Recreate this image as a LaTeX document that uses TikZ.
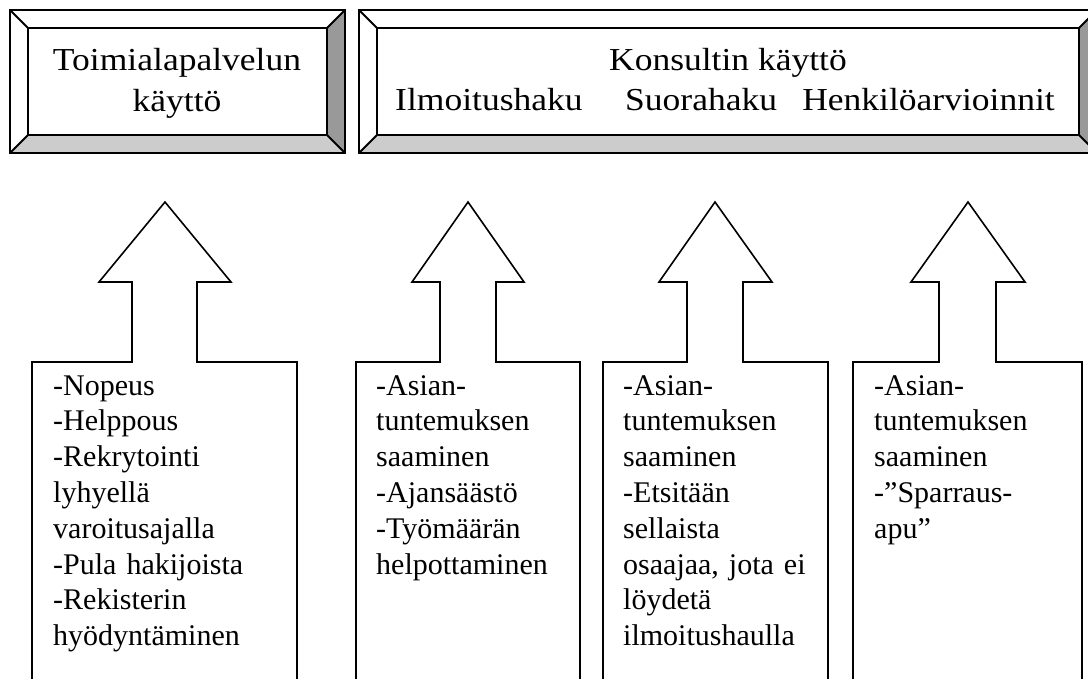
\documentclass[tikz,border=0pt]{standalone}
\usepackage{fontspec}
\setmainfont{Liberation Serif}
\newfontfamily\headfont{Liberation Serif}[FakeStretch=1.11]
\definecolor{bevdark}{gray}{0.6}
\definecolor{bevlight}{gray}{0.8}
\tikzset{
  panelline/.style={line width=2pt, line join=miter},
  arrowline/.style={line width=1.6pt, line join=miter},
  headtext/.style={inner sep=0pt, font=\headfont\fontsize{32}{41.5}\selectfont},
  bodytext/.style={inner sep=0pt, anchor=base west, text width=240pt, align=left,
                   font=\fontsize{30}{35.8}\selectfont},
}
% bevelled panel: outer corners (#1,#2)-(#3,#4), bevel width #5
\newcommand{\bevelpanel}[5]{%
  \fill[white] (#1,#2) rectangle (#3,#4);
  \fill[bevdark] (#3,#2) -- (#3-#5,#2+#5) -- (#3-#5,#4-#5) -- (#3,#4) -- cycle;
  \fill[bevlight] (#1,#4) -- (#1+#5,#4-#5) -- (#3-#5,#4-#5) -- (#3,#4) -- cycle;
  \draw[panelline] (#1,#2) rectangle (#3,#4);
  \draw[panelline] (#1+#5,#2+#5) rectangle (#3-#5,#4-#5);
  \draw[panelline] (#1,#2) -- (#1+#5,#2+#5) (#3,#2) -- (#3-#5,#2+#5)
                   (#1,#4) -- (#1+#5,#4-#5) (#3,#4) -- (#3-#5,#4-#5);
}
% upward block arrow standing on an open-bottomed box
% #1 box left, #2 shaft left, #3 head left, #4 tip x, #5 head right, #6 shaft right, #7 box right
\newcommand{\uparrowbox}[7]{%
  \draw[arrowline] (#1,700) -- (#1,362) -- (#2,362) -- (#2,282) -- (#3,282)
     -- (#4,202) -- (#5,282) -- (#6,282) -- (#6,362) -- (#7,362) -- (#7,700);
}
\begin{document}
\begin{tikzpicture}[x=1pt, y=-1pt]
  \useasboundingbox (0,0) rectangle (1088,678);
  \begin{scope}
    \clip (0,0) rectangle (1088,678);

    % top panels
    \bevelpanel{10}{10}{345}{153}{18}
    \bevelpanel{359}{10}{1097}{153}{18}

    \node[headtext, anchor=base, text width=300pt, align=center] (toimiala) at (177,70)
      {Toimialapalvelun\\käyttö};
    \node[headtext, anchor=base] (konsultti) at (728,70) {Konsultin käyttö};
    \node[headtext, anchor=base west] (ilmoitus) at (395,110.5) {Ilmoitushaku};
    \node[headtext, anchor=base west] (suora) at (625,110.5) {Suorahaku};
    \node[headtext, anchor=base east] (henkilo) at (1055,110.5) {Henkilöarvioinnit};

    % arrows
    \uparrowbox{32}{132}{99}{165}{231}{197}{297}
    \uparrowbox{356}{440}{412}{468}{524}{496}{580}
    \uparrowbox{603}{687}{659}{715}{772}{743}{828}
    \uparrowbox{853}{939}{911}{968}{1025}{996}{1082}

    % texts in the arrow boxes
    \node[bodytext] (t1) at (53,395) {-Nopeus\\-Helppous\\-Rekrytointi\\lyhyellä\\varoitusajalla\\-Pula hakijoista\\-Rekisterin\\hyödyntäminen};
    \node[bodytext] (t2) at (376,395) {-Asian-\\tuntemuksen\\saaminen\\-Ajansäästö\\-Työmäärän\\helpottaminen};
    \node[bodytext] (t3) at (623,395) {-Asian-\\tuntemuksen\\saaminen\\-Etsitään\\sellaista\\\makebox[184pt][s]{osaajaa, jota ei}\\löydetä\\ilmoitushaulla};
    \node[bodytext] (t4) at (874,395) {-Asian-\\tuntemuksen\\saaminen\\-”Sparraus-\\apu”};
  \end{scope}
\end{tikzpicture}
\end{document}
